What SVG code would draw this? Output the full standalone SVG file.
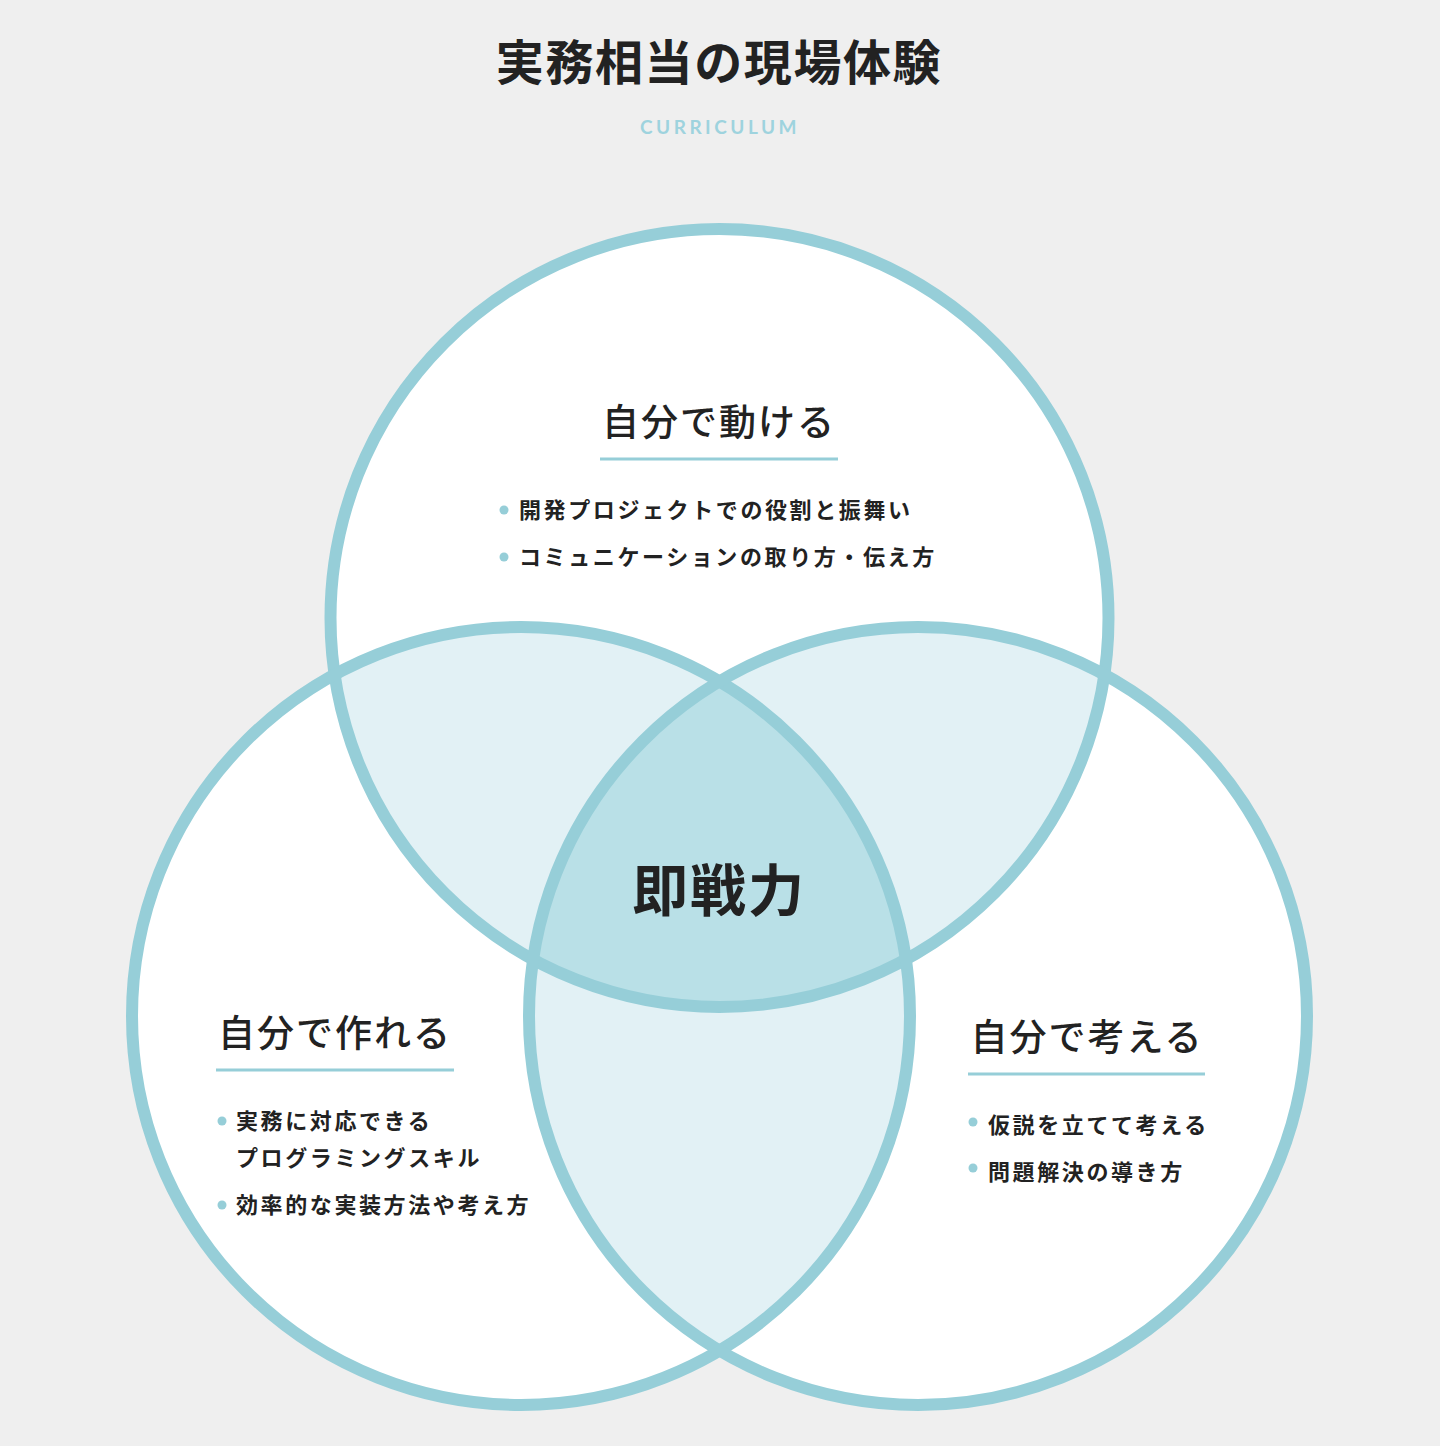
<svg xmlns="http://www.w3.org/2000/svg" width="1440" height="1446" viewBox="0 0 1440 1446">
  <style>
    .jp { font-family: "Noto Sans CJK JP", "Noto Sans", sans-serif; fill: #222222; }
    .title { font-size: 48px; font-weight: 700; letter-spacing: 1.6px; }
    .sub { font-family: Lato, "Liberation Sans", sans-serif; font-size: 19px; font-weight: 700; fill: #9ed3de; letter-spacing: 3.5px; }
    .head { font-size: 37px; font-weight: 500; letter-spacing: 2px; }
    .item { font-size: 22px; font-weight: 700; letter-spacing: 2.6px; }
    .core { font-size: 56px; font-weight: 700; letter-spacing: 2px; }
    .ring { fill: none; stroke: #96ced8; stroke-width: 12; }
    .rule { stroke: #96ced8; stroke-width: 3; }
    .dot { fill: #96ced8; }
    .lens { fill: #e2f1f5; }
    .mid { fill: #b9e0e7; }
  </style>
  <defs>
    <clipPath id="clipA"><circle cx="719.5" cy="618" r="389"/></clipPath>
    <clipPath id="clipB"><circle cx="521" cy="1016" r="389"/></clipPath>
    <clipPath id="clipC"><circle cx="918" cy="1016" r="389"/></clipPath>
  </defs>
  <rect x="0" y="0" width="1440" height="1446" fill="#efefef"/>

  <g id="header">
    <text class="jp title" x="719" y="80" text-anchor="middle">実務相当の現場体験</text>
    <text class="sub" x="720" y="134" text-anchor="middle">CURRICULUM</text>
  </g>

  <g id="fills">
    <circle cx="719.5" cy="618" r="389" fill="#ffffff"/>
    <circle cx="521" cy="1016" r="389" fill="#ffffff"/>
    <circle cx="918" cy="1016" r="389" fill="#ffffff"/>
    <circle class="lens" cx="521" cy="1016" r="389" clip-path="url(#clipA)"/>
    <circle class="lens" cx="918" cy="1016" r="389" clip-path="url(#clipA)"/>
    <circle class="lens" cx="918" cy="1016" r="389" clip-path="url(#clipB)"/>
    <g clip-path="url(#clipA)">
      <circle class="mid" cx="918" cy="1016" r="389" clip-path="url(#clipB)"/>
    </g>
  </g>

  <g id="node-move">
    <circle class="ring" cx="719.5" cy="618" r="389"/>
    <text class="jp head" x="719" y="436" text-anchor="middle">自分で動ける</text>
    <line class="rule" x1="600" y1="459" x2="838" y2="459"/>
    <circle class="dot" cx="504" cy="510" r="4.5"/>
    <text class="jp item" x="519" y="518">開発プロジェクトでの役割と振舞い</text>
    <circle class="dot" cx="504" cy="557" r="4.5"/>
    <text class="jp item" x="519" y="565">コミュニケーションの取り方・伝え方</text>
  </g>

  <g id="node-make">
    <circle class="ring" cx="521" cy="1016" r="389"/>
    <text class="jp head" x="335" y="1047" text-anchor="middle">自分で作れる</text>
    <line class="rule" x1="216" y1="1070" x2="454" y2="1070"/>
    <circle class="dot" cx="222" cy="1121" r="4.5"/>
    <text class="jp item" x="236" y="1129">実務に対応できる</text>
    <text class="jp item" x="236" y="1166">プログラミングスキル</text>
    <circle class="dot" cx="222" cy="1205" r="4.5"/>
    <text class="jp item" x="236" y="1213">効率的な実装方法や考え方</text>
  </g>

  <g id="node-think">
    <circle class="ring" cx="918" cy="1016" r="389"/>
    <text class="jp head" x="1087" y="1051" text-anchor="middle">自分で考える</text>
    <line class="rule" x1="968" y1="1074" x2="1205" y2="1074"/>
    <circle class="dot" cx="973" cy="1122" r="4.5"/>
    <text class="jp item" x="988" y="1133">仮説を立てて考える</text>
    <circle class="dot" cx="973" cy="1168" r="4.5"/>
    <text class="jp item" x="988" y="1180">問題解決の導き方</text>
  </g>

  <g id="node-core">
    <text class="jp core" x="719" y="911" text-anchor="middle">即戦力</text>
  </g>
</svg>
